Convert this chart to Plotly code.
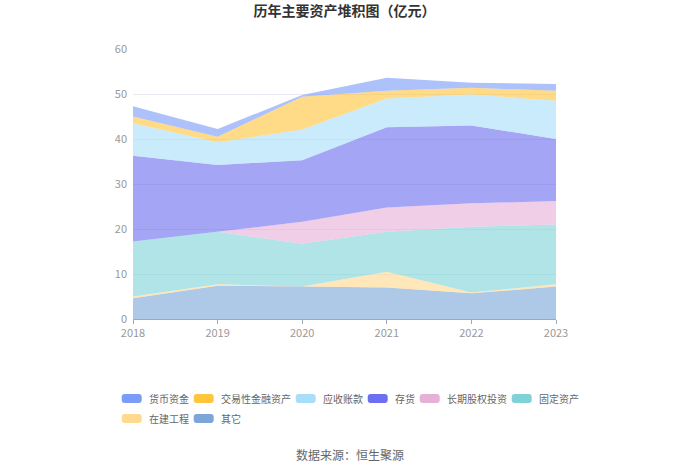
import plotly.graph_objects as go

years = [2018, 2019, 2020, 2021, 2022, 2023]

# values in 亿元 (bottom of stack first)
qita = [4.6, 7.4, 7.2, 7.0, 5.7, 7.2]          # 其它
zaijian = [0.4, 0.3, 0.0, 3.5, 0.2, 0.5]       # 在建工程
guding = [12.2, 11.7, 9.5, 8.9, 14.6, 13.3]    # 固定资产
changqi = [0.0, 0.0, 4.9, 5.4, 5.2, 5.2]       # 长期股权投资
cunhuo = [19.1, 14.8, 13.7, 17.8, 17.3, 13.8]  # 存货
yingshou = [7.2, 5.1, 6.8, 6.4, 6.9, 8.5]      # 应收账款
jiaoyi = [1.5, 1.2, 7.3, 1.7, 1.5, 2.2]        # 交易性金融资产
huobi = [2.3, 1.7, 0.4, 2.9, 1.1, 1.5]         # 货币资金

series = [
    ("其它", qita, (125, 166, 216)),
    ("在建工程", zaijian, (255, 217, 142)),
    ("固定资产", guding, (127, 211, 214)),
    ("长期股权投资", changqi, (230, 176, 216)),
    ("存货", cunhuo, (110, 110, 240)),
    ("应收账款", yingshou, (168, 222, 249)),
    ("交易性金融资产", jiaoyi, (255, 197, 61)),
    ("货币资金", huobi, (123, 156, 248)),
]
legend_rows = [["货币资金", "交易性金融资产", "应收账款", "存货", "长期股权投资", "固定资产"],
               ["在建工程", "其它"]]

fig = go.Figure()
for name, vals, (r, g, b) in series:
    fig.add_trace(go.Scatter(
        x=years, y=vals, name=name, stackgroup="one", mode="lines",
        line=dict(width=0, color=f"rgb({r},{g},{b})"),
        fillcolor=f"rgba({r},{g},{b},0.62)",
        showlegend=False, hoverinfo="x+y+name",
    ))

# ---- layout geometry (figure pixels) ----
W, H = 700, 473
L, R, T, B = 133, 144, 49, 154
PW, PH = W - L - R, H - T - B


def px_x(x):
    return (x - L) / PW


def px_y(y):
    return (H - B - y) / PH


# ---- manual legend (rounded swatches + text) ----
colors = {n: c for n, _, c in series}
shapes, annots = [], []
sw_w, sw_h, rad = 20, 9, 3
char_w, font_leg = 10, 10
row_y = [398.5, 418.5]
for ri, row in enumerate(legend_rows):
    x = 121.7
    cy = row_y[ri]
    for name in row:
        r, g, b = colors[name]
        x0, x1 = x, x + sw_w
        y0, y1 = cy - sw_h / 2, cy + sw_h / 2
        pts = [
            ("M", x0 + rad, y0), ("L", x1 - rad, y0), ("Q", x1, y0, x1, y0 + rad),
            ("L", x1, y1 - rad), ("Q", x1, y1, x1 - rad, y1), ("L", x0 + rad, y1),
            ("Q", x0, y1, x0, y1 - rad), ("L", x0, y0 + rad), ("Q", x0, y0, x0 + rad, y0),
        ]
        path = ""
        for p in pts:
            if p[0] == "Q":
                path += f"Q{px_x(p[1]):.5f},{px_y(p[2]):.5f} {px_x(p[3]):.5f},{px_y(p[4]):.5f} "
            else:
                path += f"{p[0]}{px_x(p[1]):.5f},{px_y(p[2]):.5f} "
        path += "Z"
        shapes.append(dict(type="path", path=path, xref="paper", yref="paper",
                           fillcolor=f"rgb({r},{g},{b})", line=dict(width=0)))
        annots.append(dict(text=name, x=px_x(x + 25), y=px_y(cy), xref="paper", yref="paper",
                           xanchor="left", yanchor="middle", showarrow=False,
                           font=dict(size=font_leg, color="#666")))
        x += 32 + char_w * len(name)

annots.append(dict(text="数据来源：恒生聚源", x=px_x(349.5), y=px_y(455), xref="paper", yref="paper",
                   xanchor="center", yanchor="middle", showarrow=False,
                   font=dict(size=12, color="#666")))

font_family = "Noto Sans CJK SC, Noto Sans, sans-serif"
fig.update_layout(
    width=W, height=H,
    margin=dict(l=L, r=R, t=T, b=B),
    paper_bgcolor="white", plot_bgcolor="white",
    font=dict(family=font_family, size=11, color="#666"),
    title=dict(text="<b>历年主要资产堆积图（亿元）</b>", x=0.5, xref="paper", xanchor="center",
               y=1 - 11.5 / H, yref="container", yanchor="middle",
               font=dict(size=14, color="#333", family=font_family)),
    xaxis=dict(range=[2018, 2023], tickvals=years, ticktext=[str(y) for y in years],
               showgrid=False, showline=True, linecolor="#A0A8B8", linewidth=1,
               ticks="outside", ticklen=4, tickcolor="#A0A8B8", zeroline=False,
               tickfont=dict(color="#999", size=11)),
    yaxis=dict(range=[0, 60], tickvals=[0, 10, 20, 30, 40, 50, 60],
               showgrid=True, gridcolor="#E8EAF2", gridwidth=1, zeroline=False,
               showline=False, tickfont=dict(color="#999", size=11), ticklabelstandoff=5),
    showlegend=False,
    shapes=shapes,
    annotations=annots,
)

fig.write_html("out.html", config={"displayModeBar": False},
               post_script="document.body.style.margin='0';")
